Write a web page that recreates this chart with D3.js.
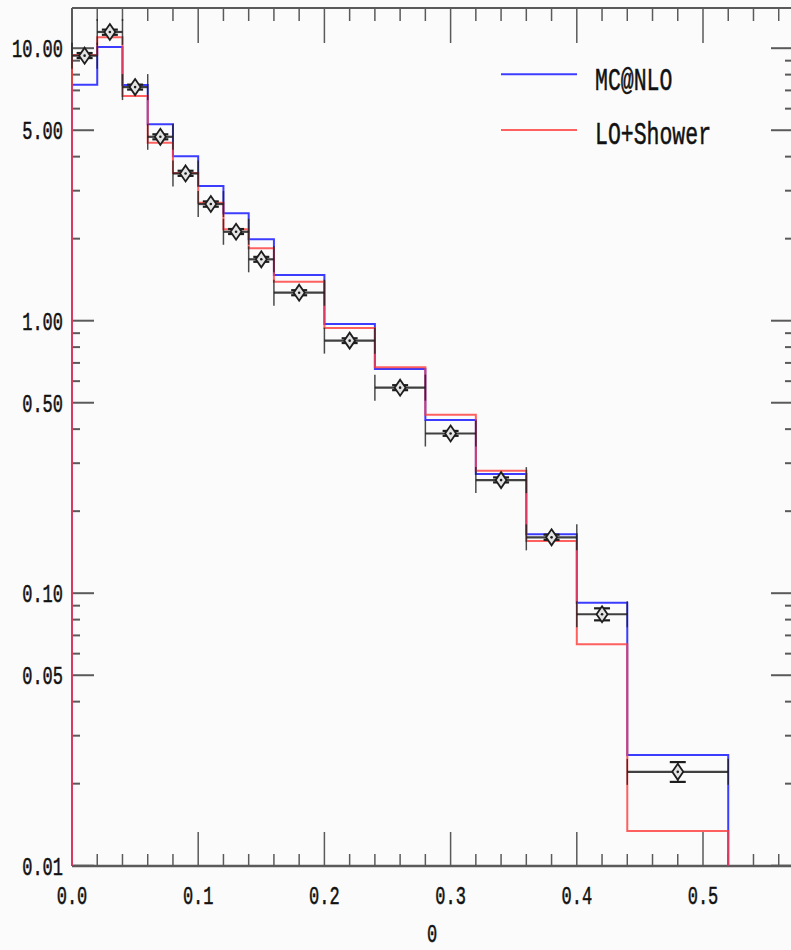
<!DOCTYPE html>
<html>
<head>
<meta charset="utf-8">
<script src="https://cdn.jsdelivr.net/npm/d3@7"></script>
<style>
  html, body { margin: 0; padding: 0; background: #fbfbfb; }
  svg { display: block; }
  text { font-family: "Liberation Mono", "DejaVu Sans Mono", monospace; fill: #111; stroke: #111; stroke-width: 0.35px; }
</style>
</head>
<body>
<svg id="chart" width="791" height="950"></svg>
<script>
// ---- data ----
const binEdges = [0, 0.02, 0.04, 0.06, 0.08, 0.10, 0.12, 0.14, 0.16, 0.20, 0.24, 0.28, 0.32, 0.36, 0.40, 0.44, 0.52];
const mcnlo    = [7.35, 10.1, 7.33, 5.26, 4.01, 3.12, 2.48, 1.99, 1.47, 0.972, 0.665, 0.432, 0.274, 0.1645, 0.0923, 0.0255];
const loShower = [9.44, 10.96, 6.68, 4.50, 3.48, 2.71, 2.165, 1.844, 1.39, 0.94, 0.675, 0.452, 0.2815, 0.1554, 0.0649, 0.0134];
const dataVal  = [9.39, 11.47, 7.20, 4.73, 3.47, 2.68, 2.12, 1.68, 1.267, 0.845, 0.568, 0.3855, 0.260, 0.1603, 0.0837, 0.0221];
const dataLo   = [9.20, 11.20, 7.05, 4.63, 3.40, 2.62, 2.08, 1.645, 1.24, 0.828, 0.556, 0.378, 0.255, 0.157, 0.0795, 0.0203];
const dataHi   = [9.60, 11.70, 7.35, 4.83, 3.55, 2.74, 2.17, 1.715, 1.294, 0.862, 0.580, 0.394, 0.266, 0.164, 0.0880, 0.0240];
const seriesNames = ["MC@NLO", "LO+Shower"];
const xTickLabels = ["0.0", "0.1", "0.2", "0.3", "0.4", "0.5"];
const xTickValues = [0, 0.1, 0.2, 0.3, 0.4, 0.5];
const yTickValues = [10, 5, 1, 0.5, 0.1, 0.05, 0.01];
const yTickLabels = ["10.00", "5.00", "1.00", "0.50", "0.10", "0.05", "0.01"];
const xTitle = "0";

(function () {
// ---- layout ----
const svg = d3.select("#chart");
const pL = 72, pR = 793, pT = 8, pB = 866;
const x = d3.scaleLinear().domain([0, 0.5]).range([72, 703]);
const y = d3.scaleLog().domain([0.01, 10]).range([865.7, 48.2]);
const xMax = x.invert(pR);
const yMax = y.invert(pT);
const axisCol = "#5a5a5a";
const blue = "#3c3cff", red = "#ff3a3a", dark = "#1e1e1e";

svg.append("rect").attr("width", 791).attr("height", 950).attr("fill", "#fbfbfb");

function label(px, py, txt, anchor, size) {
  svg.append("text")
    .attr("transform", `translate(${px},${py}) scale(1,1.5)`)
    .attr("text-anchor", anchor)
    .attr("dy", "0.36em")
    .style("font-size", size + "px")
    .text(txt);
}

// frame
const frame = svg.append("g").attr("stroke", axisCol).attr("fill", "none");
frame.append("line").attr("x1", pL).attr("x2", pR).attr("y1", pT).attr("y2", pT).attr("stroke-width", 2);
frame.append("line").attr("x1", pL).attr("x2", pR).attr("y1", pB).attr("y2", pB).attr("stroke-width", 2.5);
frame.append("line").attr("x1", pL).attr("x2", pL).attr("y1", pT).attr("y2", pB).attr("stroke-width", 2);
frame.append("line").attr("x1", pR).attr("x2", pR).attr("y1", pT).attr("y2", pB).attr("stroke-width", 2);

// x ticks (major every 0.1, minor every 0.02)
const xMinor = d3.range(0, xMax + 1e-9, 0.02).map(v => +v.toFixed(2));
xMinor.forEach(v => {
  const major = Math.abs(v * 10 - Math.round(v * 10)) < 1e-6;
  const px = x(v);
  const lenB = major ? 34 : 12, lenT = major ? 35 : 13;
  frame.append("line").attr("x1", px).attr("x2", px).attr("y1", pB).attr("y2", pB - lenB).attr("stroke-width", 1.5);
  frame.append("line").attr("x1", px).attr("x2", px).attr("y1", pT).attr("y2", pT + lenT).attr("stroke-width", 1.5);
});

// y ticks (major at labelled values, minor at all integer multiples)
const yMinor = [];
[0.01, 0.1, 1, 10].forEach(dec => {
  for (let k = 1; k <= 9; k++) {
    const v = +(dec * k).toPrecision(3);
    if (v >= 0.01 && v <= yMax) yMinor.push(v);
  }
});
yMinor.forEach(v => {
  const major = yTickValues.some(t => Math.abs(t - v) / t < 1e-6);
  const py = y(v);
  const len = major ? 22 : 8;
  frame.append("line").attr("x1", pL).attr("x2", pL + len).attr("y1", py).attr("y2", py).attr("stroke-width", 2);
  frame.append("line").attr("x1", pR).attr("x2", pR - len).attr("y1", py).attr("y2", py).attr("stroke-width", 2);
});

// tick labels
yTickValues.forEach((v, i) => label(63, y(v), yTickLabels[i], "end", 17));
xTickValues.forEach((v, i) => label(x(v), 895, xTickLabels[i], "middle", 17));
label((pL + pR) / 2 - 0.5, 933, xTitle, "middle", 17);

// histogram step paths
function stepPath(vals) {
  const pts = [[x(binEdges[0]), y(0.01)]];
  vals.forEach((v, i) => {
    pts.push([x(binEdges[i]), y(v)]);
    pts.push([x(binEdges[i + 1]), y(v)]);
  });
  pts.push([x(binEdges[binEdges.length - 1]), y(0.01)]);
  return d3.line()(pts);
}
svg.append("path").attr("d", stepPath(mcnlo)).attr("fill", "none").attr("stroke", blue).attr("stroke-width", 2);
svg.append("path").attr("d", stepPath(loShower)).attr("fill", "none").attr("stroke", red).attr("stroke-width", 2).attr("stroke-opacity", 0.8);

// data points
const dg = svg.append("g");
dataVal.forEach((v, i) => {
  const x0 = x(binEdges[i]), x1 = x(binEdges[i + 1]);
  const cx = x((binEdges[i] + binEdges[i + 1]) / 2), cy = y(v);
  const g = dg.append("g").attr("stroke", dark).attr("fill", "none");
  g.append("line").attr("x1", x0).attr("x2", x1).attr("y1", cy).attr("y2", cy).attr("stroke-width", 2.2).attr("stroke-opacity", 0.85);
  g.append("line").attr("x1", x0).attr("x2", x0).attr("y1", cy - 13).attr("y2", cy + 13).attr("stroke-width", 1.5).attr("stroke-opacity", 0.8);
  g.append("line").attr("x1", x1).attr("x2", x1).attr("y1", cy - 13).attr("y2", cy + 13).attr("stroke-width", 1.5).attr("stroke-opacity", 0.8);
  const yl = y(dataLo[i]), yh = y(dataHi[i]);
  g.append("line").attr("x1", cx).attr("x2", cx).attr("y1", yl).attr("y2", yh).attr("stroke-width", 1.5);
  g.append("line").attr("x1", cx - 8).attr("x2", cx + 8).attr("y1", yl).attr("y2", yl).attr("stroke-width", 2.2);
  g.append("line").attr("x1", cx - 8).attr("x2", cx + 8).attr("y1", yh).attr("y2", yh).attr("stroke-width", 2.2);
  g.append("path").attr("d", `M${cx},${cy - 8}L${cx + 5.5},${cy}L${cx},${cy + 8}L${cx - 5.5},${cy}Z`)
    .attr("fill", "#e4e4e4").attr("stroke-width", 1.8);
  g.append("circle").attr("cx", cx).attr("cy", cy).attr("r", 1.3).attr("fill", dark).attr("stroke", "none");
});

// legend
const legend = [[seriesNames[0], blue, 74.3, 78], [seriesNames[1], red, 130, 132]];
legend.forEach(([name, col, ly, ty], i) => {
  svg.append("line").attr("x1", 501).attr("x2", 577).attr("y1", ly).attr("y2", ly)
    .attr("stroke", col).attr("stroke-width", 2).attr("stroke-opacity", i ? 0.8 : 1);
  label(595, ty, name, "start", 21.5);
});
})();
</script>
</body>
</html>
